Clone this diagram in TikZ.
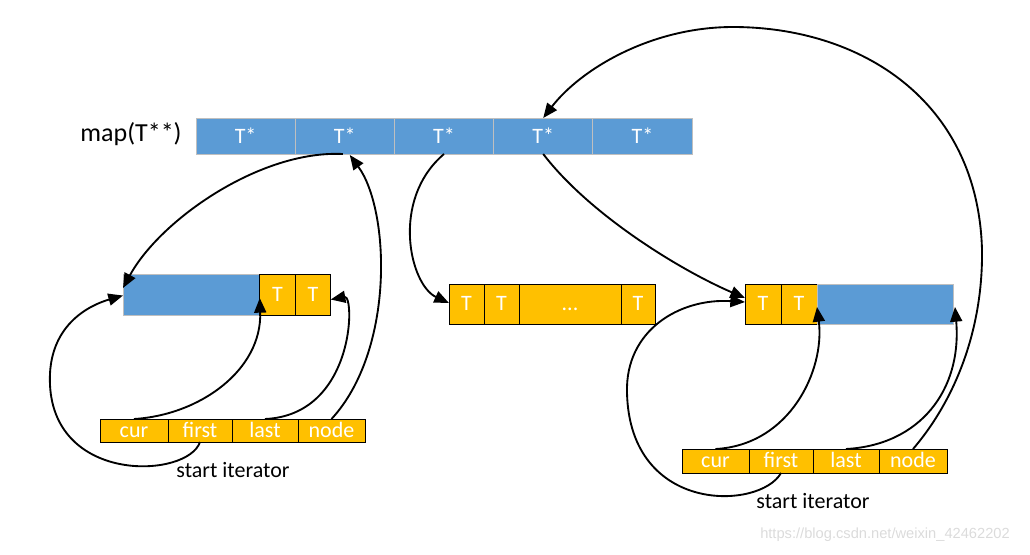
\documentclass[tikz,border=0pt]{standalone}
\usepackage{fontspec}
\setmainfont{Carlito}
\newfontfamily\wmfont{Liberation Sans}
\usetikzlibrary{arrows.meta,calc}
\definecolor{mblue}{HTML}{5B9BD5}
\definecolor{myel}{HTML}{FFC000}
\definecolor{mgray}{HTML}{BFBFBF}
\begin{document}
\begin{tikzpicture}[x=0.75pt,y=-0.75pt,
  mapcell/.style={fill=mblue,draw=mgray,line width=0.75pt,text=white,inner sep=0pt,outer sep=0pt,
    minimum width=74.4pt,minimum height=27pt,font=\fontsize{16.5}{19}\selectfont},
  bblock/.style={fill=mblue,draw=mgray,line width=0.75pt,inner sep=0pt,outer sep=0pt},
  ycell/.style={fill=myel,draw=black,line width=0.75pt,text=white,inner sep=0pt,outer sep=0pt,
    text height=12.5pt,text depth=2.5pt,font=\fontsize{16.5}{19}\selectfont},
  itcell/.style={ycell,minimum height=17.25pt},
  itcellr/.style={ycell,minimum height=18pt},
  lbl/.style={text=black,inner sep=0pt,font=\fontsize{16.5}{19}\selectfont},
  arr/.style={-{Triangle[length=11pt,width=9pt]},line width=1.4pt,black}]
\useasboundingbox (0,0) rectangle (1030,554);
% map
\node[lbl,font=\fontsize{19.5}{23}\selectfont] (maplbl) at (131,134) {map(T**)};
\node[mapcell] (m1) at (245.6,136) {T*};
\node[mapcell] (m2) at (344.8,136) {T*};
\node[mapcell] (m3) at (444,136) {T*};
\node[mapcell] (m4) at (543.2,136) {T*};
\node[mapcell] (m5) at (642.4,136) {T*};
% left buffer
\node[bblock,minimum width=102.75pt,minimum height=30.75pt] (lb) at (191.5,294.5) {};
\node[ycell,minimum width=26.6pt,minimum height=30.75pt] (lt1) at (277.5,294.5) {T};
\node[ycell,minimum width=26.6pt,minimum height=30.75pt] (lt2) at (313,294.5) {T};
% left iterator
\node[itcell,minimum width=51pt] (li1) at (134,430.5) {cur};
\node[itcell,minimum width=48pt] (li2) at (200,430.5) {first};
\node[itcell,minimum width=49.5pt] (li3) at (265,430.5) {last};
\node[itcell,minimum width=50.25pt] (li4) at (331.5,430.5) {node};
\node[lbl] (lstart) at (233,470) {start iterator};
% middle buffer
\node[ycell,minimum width=26.25pt,minimum height=30pt] (md1) at (466.5,304) {T};
\node[ycell,minimum width=26.25pt,minimum height=30pt] (md2) at (501.5,304) {T};
\node[ycell,minimum width=76.5pt,minimum height=30pt] (md3) at (570,304) {...};
\node[ycell,minimum width=25.5pt,minimum height=30pt] (md4) at (638,304) {T};
% right buffer
\node[ycell,minimum width=27pt,minimum height=30pt] (rt1) at (763,304) {T};
\node[ycell,minimum width=27pt,minimum height=30pt] (rt2) at (799,304) {T};
\node[bblock,minimum width=102pt,minimum height=30pt] (rb) at (885,304) {};
% right iterator
\node[itcellr,minimum width=50.25pt] (ri1) at (715.5,461) {cur};
\node[itcellr,minimum width=48pt] (ri2) at (781,461) {first};
\node[itcellr,minimum width=49.5pt] (ri3) at (846,461) {last};
\node[itcellr,minimum width=51pt] (ri4) at (913,461) {node};
\node[lbl] (rstart) at (813,501) {start iterator};
% watermark
\node[inner sep=0pt,text=black!14,font=\wmfont\fontsize{11}{13}\selectfont] (wm) at (885,535) {https://blog.csdn.net/weixin\_42462202};
% connectors: map -> buffers
\draw[arr] ($(m2.south)+(-2,0)$) .. controls (260,150) and (160,220) .. ($(lb.north west)+(0,14)$);
\draw[arr] (m3.south) .. controls (390,200) and (410,285) .. ($(md1.west)+(0,-1)$);
\draw[arr] (m4.south) .. controls (590,215) and (680,270) .. ($(rt1.west)+(0,-6)$);
% left iterator
\draw[arr] (li1.north) .. controls (200,415) and (262,370) .. ($(lt1.south west)+(0,-17)$);
\draw[arr] (li2.south) .. controls (188,478) and (55,485) .. (50,385) .. controls (47,325) and (90,305) .. ($(lb.west)+(0,1)$);
\draw[arr] (li3.north) .. controls (355,415) and (355,295) .. ($(lt2.east)+(0,5)$);
\draw[arr] (li4.north) .. controls (395,350) and (390,210) .. ($(m2.south)+(5,1)$);
% right iterator
\draw[arr] (ri1.north) .. controls (790,445) and (825,370) .. ($(rt2.south east)+(0,-17)$);
\draw[arr] (ri2.south) .. controls (760,510) and (630,515) .. (627,393) .. controls (625,330) and (680,298) .. ($(rt1.west)+(0,-2)$);
\draw[arr] (ri3.north) .. controls (920,445) and (962,390) .. ($(rb.south east)+(2,-17)$);
\draw[arr] (ri4.north) .. controls (955,400) and (983,330) .. (982,250) .. controls (978,100) and (860,27) .. (733,27) .. controls (650,27) and (580,70) .. (m4.north);
\end{tikzpicture}
\end{document}
